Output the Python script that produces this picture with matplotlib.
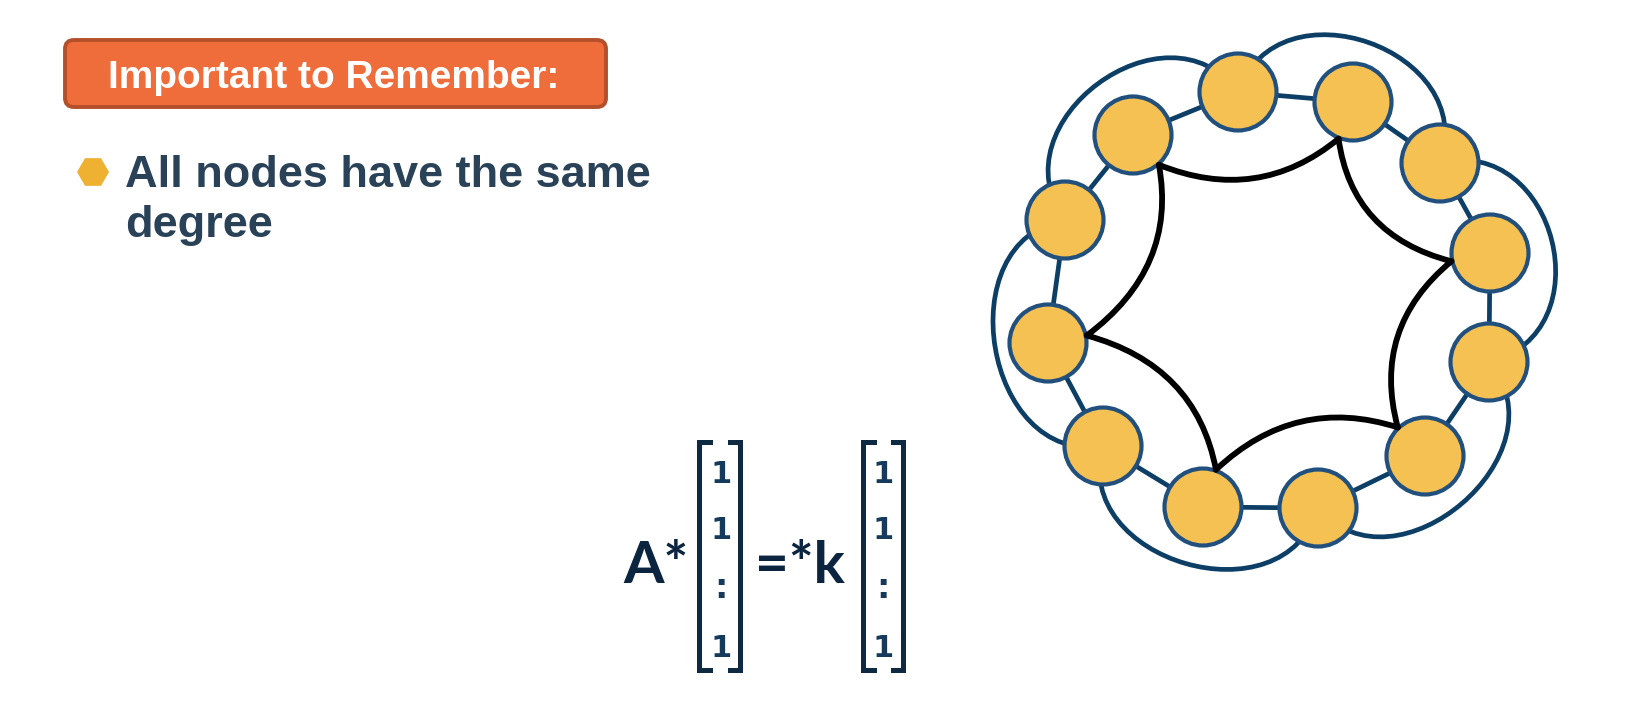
import numpy as np
import matplotlib
matplotlib.use('Agg')
import matplotlib.pyplot as plt
from matplotlib.patches import Circle, FancyBboxPatch, RegularPolygon, PathPatch
from matplotlib.path import Path

W, H = 1636, 721

# node centres (pixels), clockwise from the top
node_x = [1238, 1353, 1440, 1490, 1489, 1425, 1318, 1203, 1103, 1048, 1065, 1133]
node_y = [92, 102, 163, 253, 362, 456, 508, 507, 446, 343, 220, 135]
# outer blue arcs (skip one node) and the hand drawn black edges
arc_pairs = [(0, 2), (2, 4), (4, 6), (6, 8), (8, 10), (10, 0)]
black_pairs = [(11, 1), (1, 3), (3, 5), (5, 7), (7, 9), (9, 11)]

vector_rows = ['1', '1', ':', '1']
row_baselines = [483, 539, 598, 657]

NODE_R = 38.5
FILL = '#F5C152'
RIM = '#22507E'
EDGE = '#0D3F66'
NAVY = '#0B2540'


def main():
    fig = plt.figure(figsize=(W / 100, H / 100), dpi=100)
    ax = fig.add_axes([0, 0, 1, 1])
    ax.set_xlim(0, W)
    ax.set_ylim(H, 0)
    ax.axis('off')

    xs = np.array(node_x, float)
    ys = np.array(node_y, float)
    cx, cy = xs.mean(), ys.mean()
    n = len(xs)

    # ring edges
    for i in range(n):
        j = (i + 1) % n
        ax.plot([xs[i], xs[j]], [ys[i], ys[j]], color=EDGE, lw=3.4,
                solid_capstyle='round', zorder=1)

    # outer arcs, bulging away from the ring centre
    for i, j in arc_pairs:
        p0 = np.array([xs[i], ys[i]])
        p3 = np.array([xs[j], ys[j]])
        d = p3 - p0
        nrm = np.array([d[1], -d[0]]) / np.hypot(*d)
        mid = (p0 + p3) / 2
        if np.dot(nrm, mid - [cx, cy]) < 0:
            nrm = -nrm
        h = 120
        verts = [p0, p0 + nrm * h, p3 + nrm * h, p3]
        path = Path(verts, [Path.MOVETO, Path.CURVE4, Path.CURVE4, Path.CURVE4])
        ax.add_patch(PathPatch(path, fc='none', ec=EDGE, lw=3.4, zorder=1))

    # nodes
    for x, y in zip(xs, ys):
        ax.add_patch(Circle((x, y), NODE_R, fc=FILL, ec=RIM, lw=3.0, zorder=3))

    # black hand drawn edges, attached on the inner side of the nodes
    def anchor(k):
        v = np.array([cx - xs[k], cy - ys[k]])
        v /= np.hypot(*v)
        return np.array([xs[k], ys[k]]) + v * (NODE_R + 1)

    for i, j in black_pairs:
        a, b = anchor(i), anchor(j)
        m = (a + b) / 2
        c = m + 0.36 * (np.array([cx, cy]) - m)
        path = Path([a, c, b], [Path.MOVETO, Path.CURVE3, Path.CURVE3])
        ax.add_patch(PathPatch(path, fc='none', ec='black', lw=4.2,
                               capstyle='round', joinstyle='round', zorder=4))

    # header box
    ax.add_patch(FancyBboxPatch((65, 40), 541, 67,
                                boxstyle='round,pad=0,rounding_size=9',
                                fc='#EE6D3B', ec='#B3502B', lw=2.8, zorder=2))
    ax.text(334, 88, 'Important to Remember:', color='white',
            family='Liberation Sans', weight='bold', fontsize=28,
            ha='center', va='baseline', zorder=3)

    # bullet
    ax.add_patch(RegularPolygon((93, 172), 6, radius=16, orientation=np.pi / 6,
                                fc='#EFB132', ec='none'))
    ax.text(125, 187, 'All nodes have the same', color='#2A4258',
            family='Liberation Sans', weight='bold', fontsize=32.5,
            ha='left', va='baseline')
    ax.text(125, 237, 'degree', color='#2A4258',
            family='Liberation Sans', weight='bold', fontsize=32.5,
            ha='left', va='baseline')

    # equation  A* [1 1 : 1] =*k [1 1 : 1]
    ax.text(623, 583, 'A*', color=NAVY, family='Lato', weight='bold',
            fontsize=42, ha='left', va='baseline')
    ax.text(755, 583, '=*k', color=NAVY, family='Lato', weight='bold',
            fontsize=42, ha='left', va='baseline')

    for left, right, col_x in [(699, 740, 721), (863, 903, 883)]:
        ax.plot([left + 11, left, left, left + 11], [442, 442, 670, 670],
                color='#0E2A43', lw=3.6, solid_joinstyle='miter')
        ax.plot([right - 10, right, right, right - 10], [442, 442, 670, 670],
                color='#0E2A43', lw=3.6, solid_joinstyle='miter')
        for label, yb in zip(vector_rows, row_baselines):
            ax.text(col_x, yb, label, color='#163A5C', family='DejaVu Sans',
                    weight='bold', fontsize=22 if label != ':' else 24,
                    ha='center', va='baseline')

    fig.savefig('out.png', dpi=100, facecolor='white')


if __name__ == '__main__':
    main()
